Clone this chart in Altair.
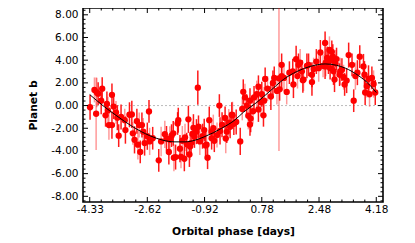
import altair as alt
import pandas as pd

# ---- data ----
phase = [-4.32, -4.19, -4.12, -4.14, -4.08, -3.96, -3.99, -3.82, -3.86, -3.79,
         -3.76, -3.67, -3.67, -3.62, -3.55, -3.47, -3.40, -3.27, -3.15, -3.05,
         -3.00, -2.93, -2.90, -2.83, -2.78, -2.74, -2.70, -2.57, -2.55, -2.46,
         -2.62, -2.28, -2.21, -3.51, -3.29, -3.08, -2.86,
         -2.10, -2.05, -1.98, -1.95, -1.90, -1.85, -1.83, -1.78, -1.72, -1.70,
         -1.65, -1.62, -1.58, -1.52, -1.50, -1.45, -1.40, -1.37, -1.35, -1.32,
         -1.28, -1.25, -1.22, -1.16, -1.12, -1.10, -1.06, -0.98, -0.93, -0.89,
         -0.86, -0.83, -0.78, -0.71, -0.71, -0.66, -0.63, -0.55, -0.48, -0.46,
         -0.40, -0.31, -0.29, -0.26, -0.20, -0.16, -0.11, -0.09, -0.05,
         0.02, 0.14, 0.20, 0.23, 0.28, 0.33, 0.38, 0.43, 0.43, 0.45,
         0.52, 0.55, 0.63, 0.68, 0.68, 0.75, 0.78, 0.83, 0.85, 0.88,
         0.95, 1.05, 1.11, 1.15, 1.23, 1.29, 1.31, 1.37, 1.37, 1.44,
         1.52, 1.60, 1.70, 1.72, 1.80, 1.84, 1.87, 1.92, 1.97, 2.00,
         2.02, 2.12, 2.17, 2.27, 2.27, 2.32, 2.40, 2.47, 2.52,
         2.60, 2.66, 2.66, 2.68, 2.72, 2.76, 2.79, 2.81, 2.84, 2.86,
         2.89, 2.91, 2.94, 2.97, 3.00, 3.09, 3.11, 3.16, 3.21, 3.24,
         3.30, 3.36, 3.46, 3.51, 3.56, 3.62, 3.69, 3.80, 3.83, 3.85,
         3.90, 3.95, 3.98, 4.05, 4.10, 4.15]
rv = [-0.15, 1.38, 1.15, -0.72, 1.05, 1.49, 0.43, 0.14, -0.86, -0.43,
      -1.72, -1.72, 0.95, -0.09, -0.60, -2.65, -1.00, -2.16, -0.81, -2.45,
      -3.02, -1.38, -3.45, -4.09, -1.72, -2.30, -3.31, -0.52, -3.16, -2.88,
      -2.70, -4.83, -3.16, -1.07, -1.29, -0.78, -1.72,
      -2.53, -2.90, -4.09, -3.02, -2.65, -2.45, -4.60, -4.54, -1.58, -1.29,
      -3.80, -4.52, -3.10, -4.69, -2.80, -3.40, -1.21, -4.31, -3.60, -3.31,
      -2.50, -1.96, -2.73, -2.30, 1.58, -1.87, -3.16, -2.70, -2.16, -3.51,
      -3.45, -4.60, -1.29, -2.30, -2.88, -2.00, -3.10, -2.60, 0.00, -2.24,
      -1.70, -1.09, -2.90, -2.30, -1.50, -1.87, -0.81, -0.86, -1.60,
      -1.44, -3.16, -0.30, 1.21, 0.72, 0.00, -0.90, 0.43, -1.67, -1.15,
      -0.50, 0.72, 1.00, 1.66, -0.34, 0.30, 1.00, -0.86, 0.43, 2.35,
      1.50, 0.80, 2.00, 2.44, 1.29, 2.40, 1.43, 2.59, 3.59, 2.44,
      1.20, 2.90, 3.02, 1.86, 4.08, 2.60, 3.59, 3.79, 3.02, 2.24,
      2.29, 3.50, 3.59, 2.72, 2.07, 3.22, 3.88, 3.30, 4.68,
      3.50, 5.52, 3.45, 3.79, 4.20, 3.88, 4.90, 3.30, 4.00, 4.74,
      4.31, 3.02, 2.29, 3.70, 4.10, 2.72, 3.02, 3.16, 2.50, 1.86,
      2.20, 4.45, 3.59, 0.43, 2.60, 2.90, 4.31, 3.45, 2.72, 1.15,
      1.72, 2.35, 1.00, 2.44, 1.90, 1.15]
err = [1.1, 1.1, 1.3, 3.2, 1.0, 1.0, 1.2, 1.1, 1.0, 1.2,
       1.3, 1.2, 1.0, 1.1, 1.0, 1.0, 1.1, 1.2, 1.1, 1.0,
       1.2, 1.1, 1.3, 1.0, 1.1, 1.2, 1.1, 1.0, 1.2, 1.0,
       1.2, 1.0, 1.3, 1.1, 1.0, 1.2, 1.1,
       1.2, 1.1, 1.1, 1.2, 1.0, 1.1, 1.2, 1.1, 1.0, 1.1,
       1.2, 1.0, 1.3, 1.1, 1.2, 1.0, 1.2, 1.1, 1.2, 1.0,
       1.1, 1.2, 1.0, 1.1, 1.5, 1.0, 1.2, 1.1, 1.0, 1.2,
       1.1, 1.0, 1.2, 1.1, 1.0, 1.2, 1.0, 1.1, 1.0, 1.2,
       1.1, 1.0, 1.3, 1.0, 1.2, 1.0, 1.1, 1.2, 1.0,
       1.1, 1.2, 1.0, 1.1, 1.2, 1.0, 1.2, 1.1, 1.0, 1.2,
       1.1, 1.0, 1.2, 1.0, 1.1, 1.2, 1.1, 1.0, 1.2, 1.0,
       1.1, 1.2, 1.1, 1.0, 1.2, 6.4, 1.0, 1.1, 1.0, 1.2,
       1.1, 1.0, 1.1, 1.2, 1.2, 1.1, 1.0, 1.2, 1.0, 1.1,
       1.0, 1.1, 1.0, 1.1, 1.2, 1.0, 1.1, 1.2, 1.1,
       1.0, 1.0, 1.1, 1.2, 1.0, 1.1, 1.2, 1.0, 1.1, 1.0,
       1.1, 1.2, 1.1, 1.2, 1.0, 1.0, 1.2, 1.0, 1.1, 1.0,
       1.1, 1.1, 1.0, 1.0, 1.2, 1.1, 1.0, 1.1, 1.2, 1.1,
       1.0, 1.2, 1.1, 1.0, 1.2, 1.1]
light = [0, 1, 1, 1, 0, 0, 0, 0, 0, 1,
         1, 0, 0, 0, 1, 0, 0, 0, 0, 1,
         0, 0, 1, 0, 0, 1, 0, 0, 1, 0,
         0, 0, 1, 0, 1, 0, 1,
         1, 0, 0, 1, 0, 0, 1, 0, 0, 0,
         0, 1, 1, 0, 1, 0, 0, 0, 1, 0,
         1, 0, 0, 0, 0, 0, 1, 0, 0, 0,
         1, 0, 0, 1, 0, 1, 0, 1, 0, 0,
         0, 0, 1, 0, 1, 0, 0, 1, 0,
         0, 0, 1, 0, 1, 0, 1, 0, 0, 0,
         1, 0, 1, 0, 0, 1, 0, 0, 1, 0,
         1, 0, 0, 0, 1, 1, 0, 0, 0, 1,
         1, 0, 0, 0, 0, 1, 0, 1, 0, 0,
         1, 0, 0, 0, 0, 1, 0, 1, 0,
         1, 0, 0, 1, 0, 0, 1, 0, 1, 0,
         0, 0, 0, 1, 0, 0, 1, 0, 1, 0,
         0, 0, 0, 0, 1, 0, 0, 0, 0, 0,
         1, 0, 1, 0, 1, 0]

model_phase = [-4.33, -3.94, -3.55, -3.05, -2.55, -2.16, -1.80, -1.50, -1.20, -0.91,
               -0.41, -0.01, 0.23, 0.63, 1.03, 1.42, 1.82, 2.22, 2.66, 3.00,
               3.26, 3.66, 3.95, 4.18]
model_rv = [0.97, 0.00, -0.86, -1.87, -2.65, -3.05, -3.20, -3.20, -3.05, -2.73,
            -2.00, -1.25, -0.60, 0.28, 1.29, 2.29, 3.00, 3.45, 3.67, 3.55,
            3.30, 2.62, 1.92, 1.15]

x_ticks = [-4.33, -2.62, -0.92, 0.78, 2.48, 4.18]
y_ticks = [-8, -6, -4, -2, 0, 2, 4, 6, 8]
x_domain = [-4.53, 4.38]
y_domain = [-8.5, 8.6]
zero_level = [0.0]

# ---- build ----
W, H = 300, 194
FONT = "DejaVu Sans"

df = pd.DataFrame({"phase": phase, "rv": rv, "err": err, "inst": light})
df["lo"] = df["rv"] - df["err"]
df["hi"] = df["rv"] + df["err"]
model = pd.DataFrame({"phase": model_phase, "rv": model_rv})

x_minor = [a + (b - a) * k / 5 for a, b in zip(x_ticks[:-1], x_ticks[1:]) for k in range(1, 5)]
y_minor = [a + (b - a) * k / 5 for a, b in zip(y_ticks[:-1], y_ticks[1:]) for k in range(1, 5)]
y_minor = [y_ticks[0] - 0.4] + y_minor + [y_ticks[-1] + 0.4]

xs = alt.Scale(domain=x_domain, nice=False, zero=False)
ys = alt.Scale(domain=y_domain, nice=False, zero=False)

fix_minus = "replace(format(datum.value, '.2f'), '\u2212', '-')"
xax = alt.Axis(values=x_ticks, labelExpr=fix_minus, ticks=False, domain=False, grid=False,
               labelPadding=2, labelFontSize=10.5, labelFont=FONT, labelColor="black",
               labelFlush=False, labelOverlap=False,
               title="Orbital phase [days]", titleFont=FONT, titleFontSize=10.7,
               titleFontWeight="bold", titleColor="black", titlePadding=12)
yax = alt.Axis(values=y_ticks, labelExpr=fix_minus, ticks=False, domain=False, grid=False,
               labelPadding=5, labelFontSize=10.5, labelFont=FONT, labelColor="black",
               labelFlush=False, labelOverlap=False,
               title="Planet b", titleFont=FONT, titleFontSize=10.7,
               titleFontWeight="bold", titleColor="black", titlePadding=12)


def X(field):
    return alt.X(field, type="quantitative", scale=xs, axis=xax)


def Y(field):
    return alt.Y(field, type="quantitative", scale=ys, axis=yax)


zero = alt.Chart(pd.DataFrame({"y": zero_level})).mark_rule(
    color="#bbbbbb", strokeDash=[2, 2], strokeWidth=1
).encode(y=Y("y"))

bars = alt.Chart(df).mark_rule(color="#ff0000", strokeWidth=1.5, clip=True).encode(
    x=X("phase"),
    y=Y("lo"),
    y2="hi:Q",
    opacity=alt.Opacity("inst:N", scale=alt.Scale(domain=[0, 1], range=[0.9, 0.4]), legend=None),
)

pts = alt.Chart(df).mark_circle(color="#ff0000", size=40, opacity=1, clip=True).encode(
    x=X("phase"), y=Y("rv"),
)

line = alt.Chart(model).mark_line(color="black", strokeWidth=1.0, interpolate="monotone").encode(
    x=X("phase"), y=Y("rv"),
)


def xticks(vals, length):
    d = pd.DataFrame({"v": vals})
    base = alt.Chart(d).mark_rule(color="black", strokeWidth=1)
    bot = base.encode(x=X("v"), y=alt.value(H), y2=alt.value(H - length))
    top = base.encode(x=X("v"), y=alt.value(0), y2=alt.value(length))
    return [bot, top]


def yticks(vals, length):
    d = pd.DataFrame({"v": vals})
    base = alt.Chart(d).mark_rule(color="black", strokeWidth=1)
    left = base.encode(y=Y("v"), x=alt.value(0), x2=alt.value(length))
    right = base.encode(y=Y("v"), x=alt.value(W), x2=alt.value(W - length))
    return [left, right]


tick_layers = xticks(x_ticks, 5) + xticks(x_minor, 2.5) + yticks(y_ticks, 5) + yticks(y_minor, 2.5)

chart = alt.layer(zero, bars, pts, line, *tick_layers).properties(
    width=W, height=H,
    autosize=alt.AutoSizeParams(type="none"),
    padding={"left": 75, "top": 0, "right": 24, "bottom": 40},
    background="white",
).configure_view(stroke="black", strokeWidth=1.6)

chart.save("out.html", embed_options={"renderer": "svg", "actions": False})
